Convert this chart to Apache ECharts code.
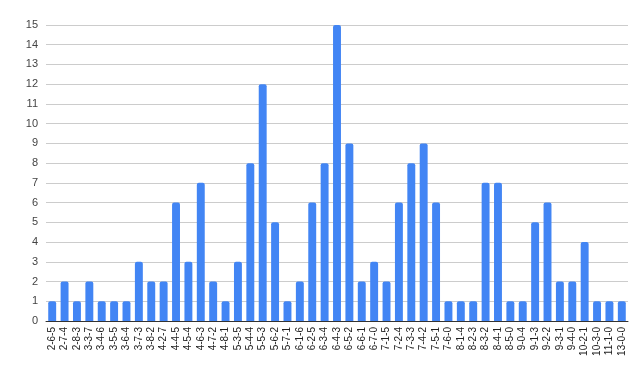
<!DOCTYPE html>
<html><head><meta charset="utf-8">
<script src="https://cdn.jsdelivr.net/npm/echarts@6/dist/echarts.min.js"></script>
<style>html,body{margin:0;padding:0;background:#fff}#c{width:644px;height:381px}</style>
</head><body><div id="c"></div>
<script>
const categories = ["2-6-5","2-7-4","2-8-3","3-3-7","3-4-6","3-5-5","3-6-4","3-7-3","3-8-2","4-2-7","4-4-5","4-5-4","4-6-3","4-7-2","4-8-1","5-3-5","5-4-4","5-5-3","5-6-2","5-7-1","6-1-6","6-2-5","6-3-4","6-4-3","6-5-2","6-6-1","6-7-0","7-1-5","7-2-4","7-3-3","7-4-2","7-5-1","7-6-0","8-1-4","8-2-3","8-3-2","8-4-1","8-5-0","9-0-4","9-1-3","9-2-2","9-3-1","9-4-0","10-2-1","10-3-0","11-1-0","13-0-0"];
const values = [1,2,1,2,1,1,1,3,2,2,6,3,7,2,1,3,8,12,5,1,2,6,8,15,9,2,3,2,6,8,9,6,1,1,1,7,7,1,1,5,6,2,2,4,1,1,1];
const yTicks = {min:0, max:15, interval:1};
const chart = echarts.init(document.getElementById('c'), null, {renderer:'canvas'});
chart.setOption({
  animation:false,
  grid:{left:46, right:16, top:25, bottom:60},
  xAxis:{type:'category', data:categories,
    axisLine:{lineStyle:{color:'#333', width:1}}, axisTick:{show:false},
    axisLabel:{rotate:90, interval:0, fontSize:10, color:'#222', fontFamily:'Arial, Liberation Sans', margin:6}},
  yAxis:{type:'value', min:yTicks.min, max:yTicks.max, interval:yTicks.interval,
    axisLine:{show:false}, axisTick:{show:false},
    splitLine:{lineStyle:{color:'#ccc'}},
    axisLabel:{fontSize:11, color:'#444', fontFamily:'Arial, Liberation Sans', margin:8}},
  series:[{type:'bar', data:values, barWidth:'64%', itemStyle:{color:'#4285F4', borderRadius:[2,2,0,0]}}]
});
</script></body></html>
